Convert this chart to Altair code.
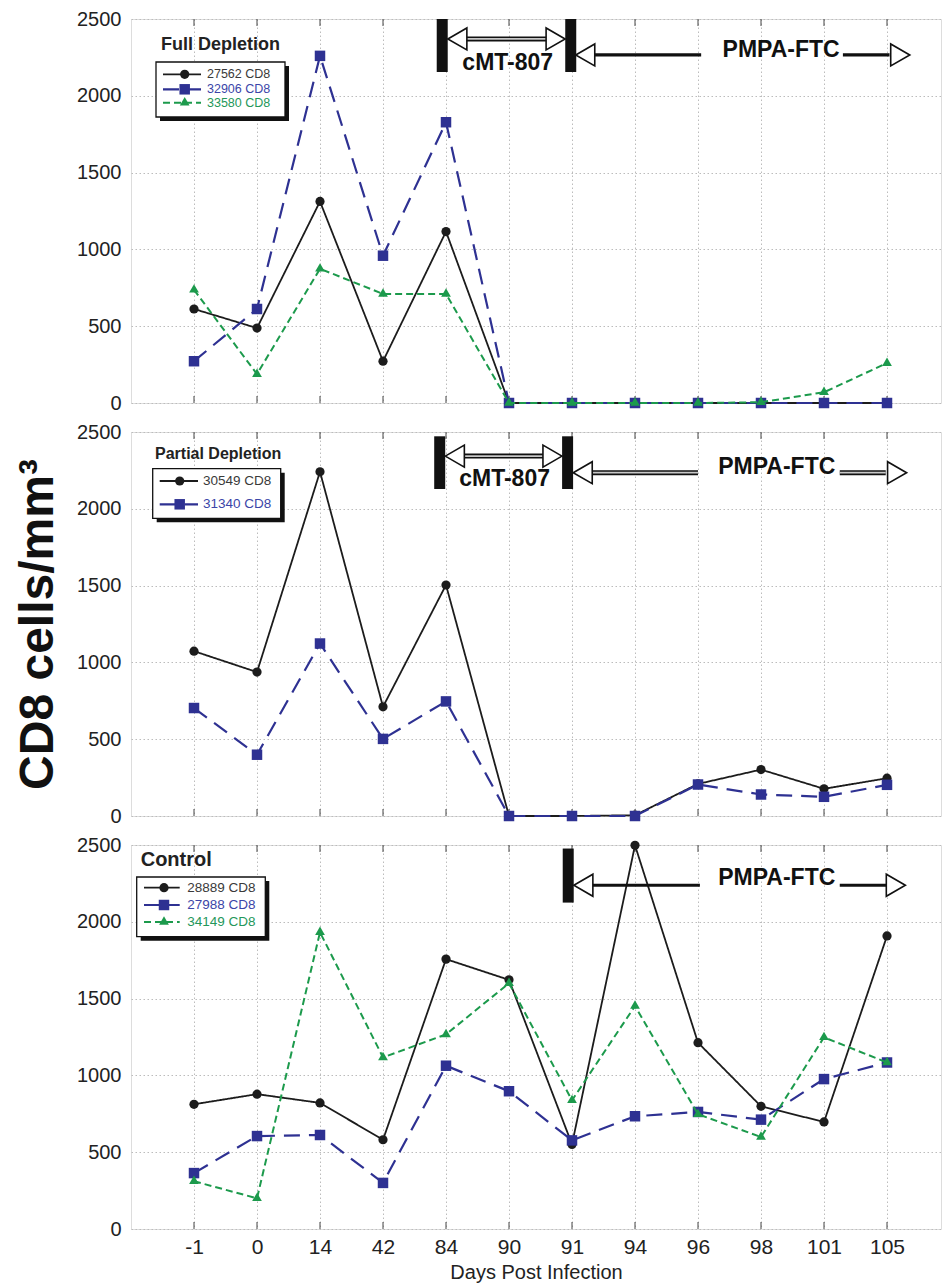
import json
import altair as alt
import pandas as pd

# ---------------- data ----------------
days = ["-1", "0", "14", "42", "84", "90", "91", "94", "96", "98", "101", "105"]

full_names = ["27562 CD8", "32906 CD8", "33580 CD8"]
full_27562 = [612, 488, 1312, 272, 1116, 0, 0, 0, 0, 0, 0, 0]
full_32906 = [272, 612, 2260, 959, 1828, 0, 0, 0, 0, 0, 0, 0]
full_33580 = [737, 188, 874, 710, 710, 0, 0, 0, 0, 5, 70, 260]

partial_names = ["30549 CD8", "31340 CD8"]
partial_30549 = [1073, 937, 2241, 711, 1504, 0, 0, 5, 209, 302, 177, 246]
partial_31340 = [703, 399, 1123, 502, 746, 0, 0, 0, 205, 140, 125, 203]

control_names = ["28889 CD8", "27988 CD8", "34149 CD8"]
control_28889 = [812, 878, 821, 581, 1757, 1622, 551, 2498, 1213, 799, 697, 1908]
control_27988 = [364, 605, 612, 300, 1063, 897, 577, 734, 762, 712, 976, 1084]
control_34149 = [311, 200, 1932, 1117, 1267, 1600, 838, 1452, 747, 599, 1248, 1084]

panel_titles = ["Full Depletion", "Partial Depletion", "Control"]
y_ticks = [0, 500, 1000, 1500, 2000, 2500]

# treatment annotations (x in day-index units, y in cells/mm3)
full_bar_x = [3.94, 5.98]
partial_bar_x = [3.90, 5.93]
control_bar_x = [5.94]
full_bar_y = [2155, 2500]
partial_bar_y = [2129, 2472]
control_bar_y = [2125, 2477]
# cMT-807 double arrow: [left head, right head, shaft start, shaft end, label x], [arrow y, label y]
full_cmt_x = [4.18, 5.74, 4.30, 5.62, 4.98]
full_cmt_y = [2370, 2214]
partial_cmt_x = [4.14, 5.69, 4.27, 5.56, 4.93]
partial_cmt_y = [2343, 2194]
# PMPA-FTC: [left head, left shaft start, left shaft end, label x, right shaft start, right shaft end, right head]
full_pmpa_x = [6.21, 6.35, 8.05, 9.32, 10.30, 11.04, 11.21]
full_pmpa_y = [2266, 2301]
partial_pmpa_x = [6.17, 6.30, 8.00, 9.25, 10.25, 10.98, 11.16]
partial_pmpa_y = [2235, 2272]
control_pmpa_x = [6.18, 6.30, 8.03, 9.25, 10.25, 10.99, 11.14]
control_pmpa_y = [2238, 2288]

# ---------------- styles ----------------
line_colors = ["#1c1c1c", "#2e3192", "#1c9a4c"]
text_colors = ["#3a3a3a", "#3b45a8", "#24975a"]
dashes = [[1, 0], [16, 9], [7, 4]]
line_widths = [1.8, 2.2, 2.0]
shapes = ["circle", "square", "triangle"]
marker_sizes = [85, 110, 95]

FONT = "Liberation Sans"
X_DOMAIN = [-1, 11.857]
W, H = 810, 384
GRID = "#bcbcbc"

label_expr = json.dumps(days) + "[datum.value]"


def x_enc(bottom):
    axis = alt.Axis(
        values=list(range(len(days))), labelExpr=label_expr, labels=bottom,
        ticks=False, domain=False, grid=True, gridColor=GRID, gridDash=[1.5, 2.5],
        gridWidth=1, labelFont=FONT, labelFontSize=21, labelColor="#222",
        labelPadding=7 if bottom else 0, title="Days Post Infection" if bottom else None,
        titleFont=FONT, titleFontSize=20, titleFontWeight="normal",
        titleColor="#222", titlePadding=5,
    )
    return alt.X("idx:Q", scale=alt.Scale(domain=X_DOMAIN, nice=False, zero=False), axis=axis)


def y_enc(title):
    axis = alt.Axis(
        values=y_ticks, format="d", ticks=False, domain=False, grid=True, gridColor=GRID,
        gridDash=[1.5, 2.5], gridWidth=1, labelFont=FONT, labelFontSize=20,
        labelColor="#222", labelPadding=10, title=title,
        titleFont=FONT, titleFontSize=48, titleFontWeight="bold",
        titleColor="#111", titlePadding=14,
    )
    return alt.Y("value:Q", scale=alt.Scale(domain=[0, 2500], nice=False), axis=axis)


def one_row():
    return pd.DataFrame({"k": [0]})


def make_panel(names, series, bars_x, bars_y, cmt_x, cmt_y, pmpa_x, pmpa_y,
               title, leg, bottom, ytitle, double_pmpa):
    X = x_enc(bottom)
    Y = y_enc(ytitle)
    layers = []

    # short inner ticks at bottom and top of the frame
    tick_df = pd.DataFrame({"idx": list(range(len(days))), "value": [0] * len(days)})
    layers.append(alt.Chart(tick_df).mark_rule(color="#444", strokeWidth=1).encode(
        x=X, y=Y, y2=alt.value(H - 7)))
    layers.append(alt.Chart(tick_df).mark_rule(color="#444", strokeWidth=1).encode(
        x=X, y=alt.value(0), y2=alt.value(7)))

    # series lines + markers
    for i, (name, vals) in enumerate(zip(names, series)):
        df = pd.DataFrame({"idx": list(range(len(days))), "day": days, "value": vals, "series": name})
        layers.append(alt.Chart(df).mark_line(
            color=line_colors[i], strokeWidth=line_widths[i], strokeDash=dashes[i]
        ).encode(x=X, y=Y))
        layers.append(alt.Chart(df).mark_point(
            shape=shapes[i], filled=True, opacity=1, size=marker_sizes[i], color=line_colors[i]
        ).encode(x=X, y=Y))

    # thick vertical bars
    bar_df = pd.DataFrame({"idx": bars_x, "value": [bars_y[0]] * len(bars_x), "v2": [bars_y[1]] * len(bars_x)})
    layers.append(alt.Chart(bar_df).mark_rule(color="#111", strokeWidth=11, strokeCap="butt").encode(
        x=X, y=Y, y2="v2:Q"))

    heads, shafts, texts = [], [], []
    if cmt_x is not None:
        heads += [(cmt_x[0], cmt_y[0], "triangle-left"), (cmt_x[1], cmt_y[0], "triangle-right")]
        shafts.append((cmt_x[2], cmt_x[3], cmt_y[0], "double"))
        texts.append((cmt_x[4], cmt_y[1], "cMT-807"))
    heads += [(pmpa_x[0], pmpa_y[0], "triangle-left"), (pmpa_x[6], pmpa_y[0], "triangle-right")]
    style = "double" if double_pmpa else "solid"
    shafts.append((pmpa_x[1], pmpa_x[2], pmpa_y[0], style))
    shafts.append((pmpa_x[4], pmpa_x[5], pmpa_y[0], style))
    texts.append((pmpa_x[3], pmpa_y[1], "PMPA-FTC"))

    for style_name in ["solid", "double"]:
        sd = [s for s in shafts if s[3] == style_name]
        if not sd:
            continue
        sdf = pd.DataFrame({"idx": [s[0] for s in sd], "x2": [s[1] for s in sd], "value": [s[2] for s in sd]})
        if style_name == "solid":
            layers.append(alt.Chart(sdf).mark_rule(color="#111", strokeWidth=3.2).encode(x=X, x2="x2:Q", y=Y))
        else:
            layers.append(alt.Chart(sdf).mark_rule(color="#111", strokeWidth=5).encode(x=X, x2="x2:Q", y=Y))
            layers.append(alt.Chart(sdf).mark_rule(color="#c8c8c8", strokeWidth=1.8).encode(x=X, x2="x2:Q", y=Y))

    hdf = pd.DataFrame({"idx": [h[0] for h in heads], "value": [h[1] for h in heads], "shape": [h[2] for h in heads]})
    layers.append(alt.Chart(hdf).mark_point(filled=True, fill="white", stroke="#111", strokeWidth=1.6,
                                            size=484, opacity=1, strokeOpacity=1, fillOpacity=1).encode(
        x=X, y=Y, shape=alt.Shape("shape:N", scale=None)))

    tdf = pd.DataFrame({"idx": [t[0] for t in texts], "value": [t[1] for t in texts], "label": [t[2] for t in texts]})
    layers.append(alt.Chart(tdf).mark_text(font=FONT, fontSize=23, fontWeight="bold", color="#111",
                                           baseline="middle", align="center").encode(
        x=X, y=Y, text="label:N"))

    # ---- legend (drawn) ----
    tx, ty, tsize = leg["title"]
    bx1, by1, bx2, by2 = leg["box"]
    layers.append(alt.Chart(one_row()).mark_text(font=FONT, fontSize=tsize, fontWeight="bold",
                                                 color="#222", align="left", baseline="middle").encode(
        x=alt.value(tx), y=alt.value(ty), text=alt.value(title)))
    layers.append(alt.Chart(one_row()).mark_rect(color="#111").encode(
        x=alt.value(bx1 + 4), x2=alt.value(bx2 + 4), y=alt.value(by1 + 4), y2=alt.value(by2 + 4)))
    layers.append(alt.Chart(one_row()).mark_rect(fill="white", stroke="#111", strokeWidth=1.3).encode(
        x=alt.value(bx1), x2=alt.value(bx2), y=alt.value(by1), y2=alt.value(by2)))
    lx1, lx2 = leg["line"]
    for i, name in enumerate(names):
        ry = leg["rows"][i]
        layers.append(alt.Chart(one_row()).mark_rule(color=line_colors[i], strokeWidth=line_widths[i],
                                                     strokeDash=dashes[i]).encode(
            x=alt.value(lx1), x2=alt.value(lx2), y=alt.value(ry)))
        layers.append(alt.Chart(one_row()).mark_point(shape=shapes[i], filled=True, opacity=1,
                                                      size=marker_sizes[i], color=line_colors[i]).encode(
            x=alt.value(leg["marker"]), y=alt.value(ry)))
        layers.append(alt.Chart(one_row()).mark_text(font=FONT, fontSize=leg["size"], color=text_colors[i],
                                                     align="left", baseline="middle").encode(
            x=alt.value(leg["text"]), y=alt.value(ry), text=alt.value(name)))

    return alt.layer(*layers).properties(width=W, height=H)


leg_full = {"title": (30, 26, 18), "box": (25, 43, 154, 98), "rows": [55.3, 70.3, 83.7],
            "line": (32, 70), "marker": 53.7, "text": 76, "size": 12.5}
leg_partial = {"title": (24, 21.7, 16), "box": (21.7, 36.7, 149.7, 86.3), "rows": [49, 72.3],
               "line": (28.7, 67), "marker": 48.7, "text": 72, "size": 13.5}
leg_control = {"title": (9.7, 15, 20), "box": (5.7, 32, 134.3, 91.7), "rows": [42.7, 60, 77],
               "line": (13, 48.7), "marker": 33, "text": 56.3, "size": 13.5}

p1 = make_panel(full_names, [full_27562, full_32906, full_33580], full_bar_x, full_bar_y,
                full_cmt_x, full_cmt_y, full_pmpa_x, full_pmpa_y, panel_titles[0], leg_full, False, None, False)
p2 = make_panel(partial_names, [partial_30549, partial_31340], partial_bar_x, partial_bar_y,
                partial_cmt_x, partial_cmt_y, partial_pmpa_x, partial_pmpa_y, panel_titles[1], leg_partial,
                False, "CD8 cells/mm\u00b3", True)
p3 = make_panel(control_names, [control_28889, control_27988, control_34149], control_bar_x, control_bar_y,
                None, None, control_pmpa_x, control_pmpa_y, panel_titles[2], leg_control, True, None, False)

chart = alt.vconcat(p1, p2, p3, spacing=7).properties(
    padding={"left": 14, "top": 8, "right": 0, "bottom": 0}
).configure_view(stroke="#555", strokeWidth=1.5).configure(background="white")

chart.save("out.html", embed_options={"renderer": "svg", "actions": False})
